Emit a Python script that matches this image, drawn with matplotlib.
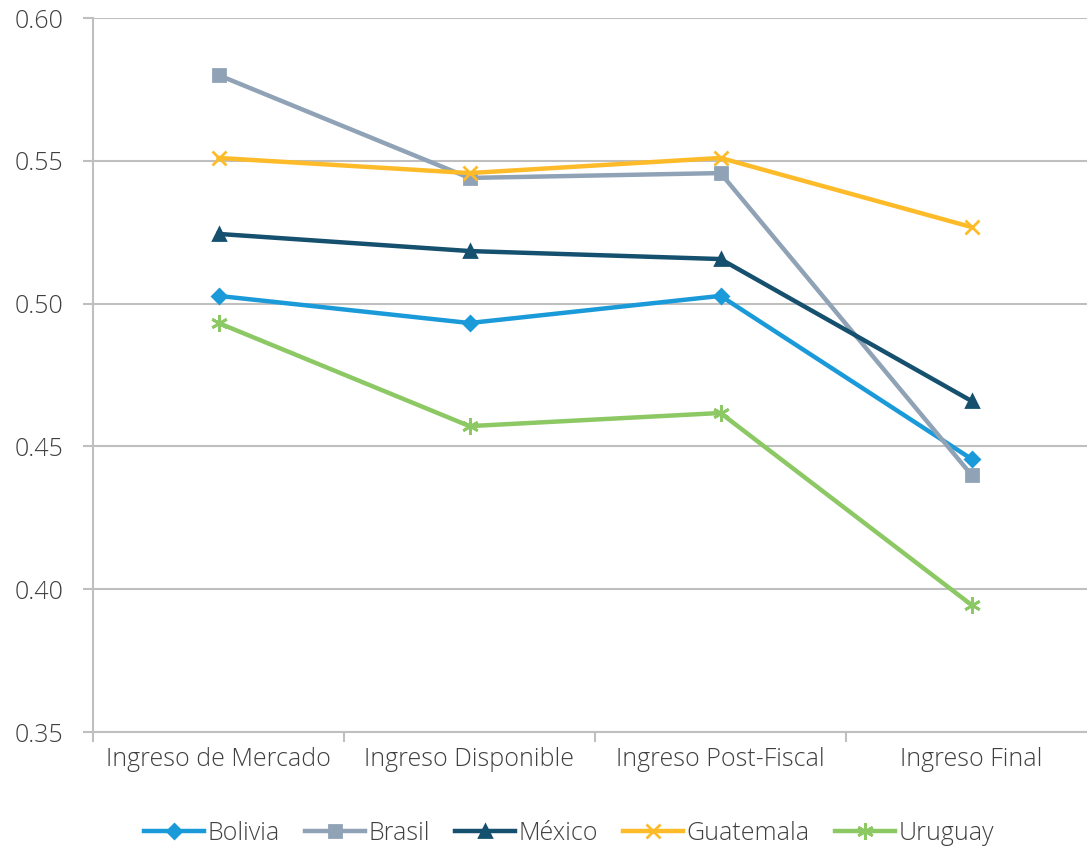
import numpy as np
import matplotlib.pyplot as plt
from matplotlib.ticker import FixedLocator

plt.rcParams['font.family'] = ['Open Sans', 'DejaVu Sans']
plt.rcParams['font.weight'] = 'light'

categorias = ['Ingreso de Mercado', 'Ingreso Disponible', 'Ingreso Post-Fiscal', 'Ingreso Final']
bolivia = [0.5027, 0.4932, 0.5027, 0.4456]
brasil = [0.5800, 0.5440, 0.5457, 0.4400]
mexico = [0.5244, 0.5184, 0.5156, 0.4659]
guatemala = [0.5510, 0.5457, 0.5510, 0.5268]
uruguay = [0.4932, 0.4571, 0.4617, 0.3945]

series = [
    ('Bolivia', bolivia, '#1a9ad8', 'D', 7),
    ('Brasil', brasil, '#8fa2b6', 's', 8),
    ('México', mexico, '#15506e', '^', 9),
    ('Guatemala', guatemala, '#fdbb2a', 'x', 10),
    ('Uruguay', uruguay, '#8cc863', (6, 2, 0), 12),
]

fig = plt.figure(figsize=(10.87, 8.5), dpi=100)
ax = fig.add_axes([93/1087, 1 - 732/850, 1004/1087, 714/850])

x = np.arange(len(categorias))
for name, vals, col, mk, ms in series:
    ax.plot(x, vals, color=col, lw=3.2, marker=mk, ms=ms, mew=2, label=name,
            solid_joinstyle='round', zorder=3)

ax.set_xlim(-0.5, 3.5)
ax.set_ylim(0.35, 0.60)
ax.set_yticks(np.arange(0.35, 0.601, 0.05))
ax.set_yticklabels(['%.2f' % v for v in np.arange(0.35, 0.601, 0.05)])
ax.yaxis.grid(True, color='#bfbfbf', lw=1.5)
ax.set_axisbelow(True)

ax.set_xticks(x)
ax.set_xticklabels(categorias)
ax.xaxis.set_minor_locator(FixedLocator([-0.5, 0.5, 1.5, 2.5]))
ax.tick_params(axis='x', which='major', length=0, pad=11, labelsize=18, labelcolor='#404040')
ax.tick_params(axis='x', which='minor', length=7, width=1.5, color='#bfbfbf')
ax.tick_params(axis='y', length=7, width=1.5, color='#bfbfbf', labelsize=18,
               labelcolor='#404040', pad=14)

for s in ['top', 'right']:
    ax.spines[s].set_visible(False)
for s in ['left', 'bottom']:
    ax.spines[s].set_color('#bfbfbf')
    ax.spines[s].set_linewidth(1.5)

fig.legend(loc='center', bbox_to_anchor=(569/1087, 1 - 833/850), ncol=5, frameon=False,
           fontsize=18, handlelength=2.4, handletextpad=0.15, columnspacing=1.0,
           labelcolor='#404040')

fig.savefig('out.png', dpi=100)
